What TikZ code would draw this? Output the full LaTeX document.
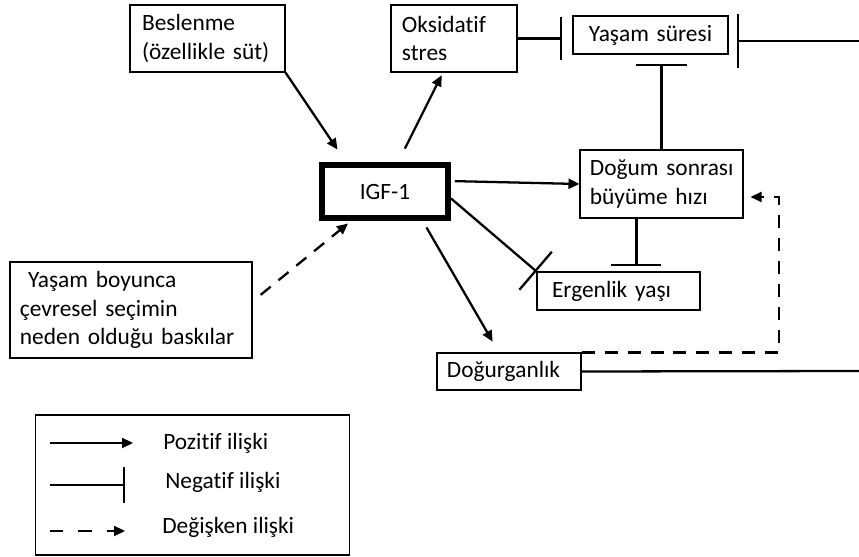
\documentclass[tikz,border=0pt]{standalone}
\usepackage{fontspec}
\setmainfont{Carlito}[Ligatures=NoCommon]
\usetikzlibrary{arrows.meta}
\newcommand{\bosluk}[1]{\hspace{#1pt}}

\begin{document}
\begin{tikzpicture}[x=0.02cm, y=-0.02cm,
		every node/.style={font=\fontsize{13.3}{16}\selectfont},
		kutu/.style={draw, line width=0.6pt, align=left, inner xsep=0.1cm, inner ysep=0pt},
		pozitif/.style={-{Triangle[length=0.22cm,width=0.2cm]}, line width=1.3pt},
		negatif/.style={-{Bar[width=#1]}, line width=1.3pt},
		degisken/.style={pozitif, dash pattern=on 0.26cm off 0.2cm}
		]
		\useasboundingbox (0,0) rectangle (859,557);
		\node[kutu, text width=2.9cm, minimum height=1.34cm] (besl) at (207.5,38.5) {\bosluk{4}Beslenme\\\bosluk{4}(özellikle süt)};
		\node[kutu, text width=2.32cm, minimum height=1.34cm] (oks) at (454,38.5) {\bosluk{3.4}Oksidatif\\\bosluk{3.4}stres};
		\node[kutu, align=center, text width=2.9cm, minimum height=0.76cm] (yasam) at (650.5,35) {Yaşam süresi};
		\node[draw, line width=3.4pt, minimum width=2.52cm, minimum height=1.06cm] (igf) at (385,191.5) {IGF-1};
		\node[kutu, text width=3.06cm, minimum height=1.36cm] (dogum) at (661.5,184) {\bosluk{2.8}Doğum sonrası\\\bosluk{2.8}büyüme hızı};
		\node[kutu, text width=3.06cm, minimum height=0.76cm] (erg) at (618.5,291) {\bosluk{5.7}Ergenlik yaşı};
		\node[kutu, text width=2.68cm, minimum height=0.74cm] (dogurg) at (509,371.5) {\bosluk{2.8}Doğurganlık};
		\node[kutu, text width=4.64cm, minimum height=1.92cm] (cevre) at (131,310) {\bosluk{7.4}Yaşam boyunca\\\bosluk{2.8}çevresel seçimin\\\bosluk{2.8}neden olduğu baskılar};
		\coordinate (sagust) at (859,41);
		\coordinate (sagalt) at (859,371);
		\coordinate (kose) at (779,197);
		\draw[pozitif, shorten >=0.3cm] (besl.south east) -- (igf.143);
		\draw[pozitif, shorten <=0.3cm, shorten >=0.06cm] (igf.66) -- (oks.252);
		\draw[negatif=0.88cm, shorten >=0.2cm] (oks.east) -- (oks.east -| yasam.west);
		\draw[negatif=1.1cm, shorten >=0.16cm] (sagust) -- (sagust -| yasam.east);
		\draw[negatif=1.02cm, shorten >=0.18cm] (dogum.north) -- (dogum.north |- yasam.south);
		\draw[pozitif, shorten <=0.08cm] (igf.9) -- (dogum.west);
		\draw[negatif=1cm] (igf.-6) -- (erg.north west);
		\draw[negatif=1cm, shorten >=0.1cm] (dogum.234) -- (dogum.234 |- erg.north);
		\draw[pozitif, shorten <=0.15cm, shorten >=0.25cm] (igf.-38) -- (dogurg.118);
		\draw[degisken, shorten >=0.14cm] (dogurg.north east) -| (kose) -- (kose -| dogum.east);
		\draw[line width=1.3pt] (dogurg.east) -- (sagalt);
		\draw[degisken, shorten <=0.21cm, shorten >=0.08cm] (cevre.4) -- (igf.221);
		% lejant
		\node[draw, line width=0.6pt, minimum width=6.3cm, minimum height=2.8cm] (lejant) at (192.5,485) {};
		\node[anchor=west, inner xsep=0pt] (poz) at (163,443) {Pozitif ilişki};
		\node[anchor=west, inner xsep=0pt] (neg) at (165,482) {Negatif ilişki};
		\node[anchor=west, inner xsep=0pt] (deg) at (162,527) {Değişken ilişki};
		\coordinate (p1) at (50,443);
		\coordinate (p2) at (133,443);
		\coordinate (n1) at (50,485);
		\coordinate (n2) at (125,485);
		\coordinate (d1) at (50,531);
		\coordinate (d2) at (125,531);
		\draw[pozitif] (p1) -- (p2);
		\draw[negatif=0.72cm] (n1) -- (n2);
		\draw[degisken, dash pattern=on 0.27cm off 0.3cm] (d1) -- (d2);
\end{tikzpicture}
\end{document}
